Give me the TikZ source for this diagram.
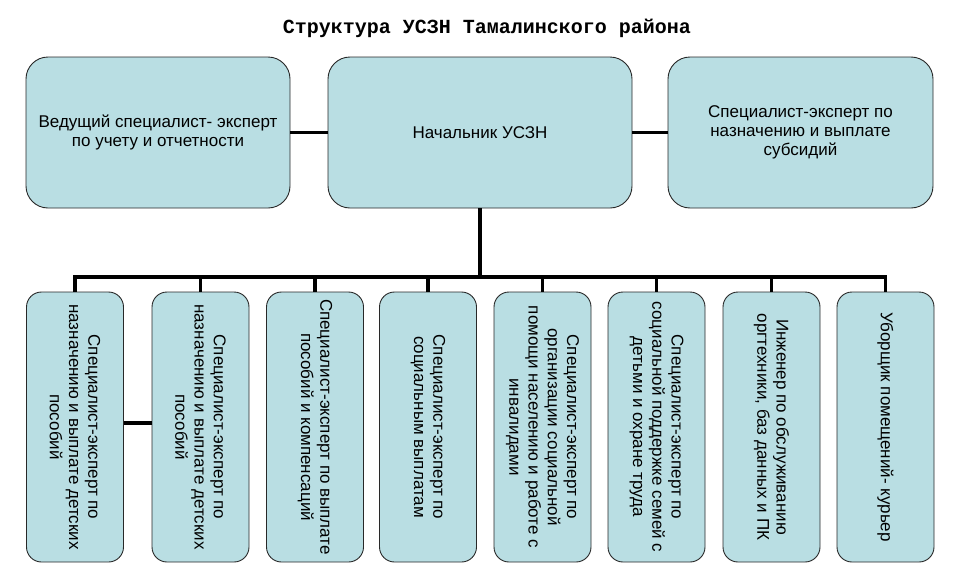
\documentclass[tikz,border=0pt]{standalone}
\usepackage{fontspec}
\setmainfont{Liberation Sans}
\newfontfamily\titlefont{Liberation Mono}
\definecolor{boxfill}{RGB}{185,222,227}
\definecolor{boxline}{RGB}{40,40,40}
\begin{document}
\begin{tikzpicture}[x=1pt,y=-1pt,
  box/.style={draw=boxline, line width=0.9pt, fill=boxfill, align=center, inner sep=0pt,
    font=\fontsize{17}{19.2}\selectfont},
  topbox/.style={box, rounded corners=22pt, minimum height=151pt},
  lowbox/.style={box, rounded corners=15pt, rotate=-90, minimum width=270pt, minimum height=97pt},
  link/.style={line width=3.2pt}]
\useasboundingbox (0,0) rectangle (959,581);
\node[font=\titlefont\bfseries\fontsize{20}{23}\selectfont] (title) at (487,28) {Структура УСЗН Тамалинского района};

\node[topbox, minimum width=264pt] (tl) at (158,132.5) {Ведущий специалист- эксперт\\по учету и отчетности};
\node[topbox, minimum width=304pt] (tc) at (480,132.5) {Начальник УСЗН};
\node[topbox, minimum width=265pt] (tr) at (800.5,132.5) {Специалист-эксперт по\\назначению и выплате\\субсидий};

\draw[link] (tl.east) -- (tc.west);
\draw[link] (tc.east) -- (tr.west);

\node[lowbox] (b1) at (75,427) {Специалист-эксперт по\\назначению и выплате детских\\пособий};
\node[lowbox] (b2) at (200.5,427) {Специалист-эксперт по\\назначению и выплате детских\\пособий};
\node[lowbox] (b3) at (315,427) {Специалист-эксперт по выплате\\пособий и компенсаций};
\node[lowbox] (b4) at (428,427) {Специалист-эксперт по\\социальным выплатам};
\node[lowbox] (b5) at (542.5,427) {Специалист-эксперт по\\организации социальной\\помощи населению и работе с\\инвалидами};
\node[lowbox] (b6) at (656.5,427) {Специалист-эксперт по\\социальной поддержке семей с\\детьми и охране труда};
\node[lowbox] (b7) at (771.5,427) {Инженер по обслуживанию\\оргтехники, баз данных и ПК};
\node[lowbox] (b8) at (885.5,427) {Уборщик помещений- курьер};

\coordinate (bus) at (480,277);
\draw[link] (tc.south) -- (bus);
\draw[link, line cap=rect] (b1.west |- bus) -- (b8.west |- bus);
\foreach \i in {1,...,8} {\draw[link] (b\i.west |- bus) -- (b\i.west);}
\draw[link] ([yshift=4pt]b1.north) -- ([yshift=4pt]b2.south);
\end{tikzpicture}
\end{document}
